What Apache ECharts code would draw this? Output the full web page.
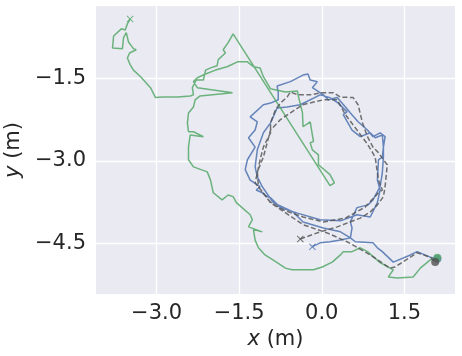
<!DOCTYPE html>
<html><head><meta charset="utf-8">
<script src="https://cdn.jsdelivr.net/npm/echarts@6/dist/echarts.min.js"></script>
<style>html,body{margin:0;padding:0;background:#fff}#c{width:462px;height:356px}</style>
</head><body><div id="c"></div>
<script>
const xTicks = [-3.0, -1.5, 0.0, 1.5];
const yTicks = [-4.5, -3.0, -1.5];

const greenPath = [
[-3.48,-0.42],[-3.53,-0.51],[-3.57,-0.62],[-3.64,-0.60],[-3.78,-0.73],[-3.80,-0.95],[-3.62,-0.96],[-3.60,-0.76],[-3.55,-0.67],[-3.51,-0.84],[-3.42,-0.96],[-3.37,-0.98],[-3.49,-1.04],[-3.53,-1.13],[-3.48,-1.25],[-3.42,-1.35],[-3.29,-1.47],[-3.11,-1.67],[-3.02,-1.85],[-2.89,-1.84],[-2.62,-1.84],[-2.39,-1.82],[-2.33,-1.80],[-2.35,-1.67],[-2.28,-1.53],[-2.15,-1.53],[-2.11,-1.35],[-2.02,-1.31],[-1.90,-1.27],[-1.88,-1.16],[-1.75,-1.04],[-1.79,-0.98],[-1.70,-0.85],[-1.61,-0.69],
[0.15,-3.45],[0.23,-3.40],[0.15,-3.25],[-0.06,-3.07],[-0.06,-2.89],[-0.17,-2.80],[-0.21,-2.67],[-0.15,-2.65],[-0.21,-2.29],[-0.34,-2.38],[-0.35,-2.13],[-0.43,-1.80],[-0.44,-1.73],[-0.66,-1.75],[-0.93,-1.69],[-1.06,-1.47],[-1.12,-1.31],[-1.24,-1.29],[-1.35,-1.20],[-1.53,-1.20],[-1.72,-1.29],[-1.93,-1.35],[-2.11,-1.42],[-2.26,-1.49],[-2.33,-1.56],[-2.26,-1.67],[-1.62,-1.76],[-2.21,-1.82],[-2.30,-1.89],[-2.33,-2.02],[-2.42,-2.13],[-2.44,-2.31],[-2.42,-2.47],[-2.33,-2.47],[-2.15,-2.56],[-2.39,-2.53],[-2.42,-2.75],[-2.42,-2.98],[-2.33,-3.11],[-2.08,-3.20],[-2.02,-3.35],[-1.97,-3.58],[-1.81,-3.71],[-1.70,-3.62],[-1.61,-3.65],[-1.55,-3.76],[-1.30,-3.98],[-1.26,-4.07],[-1.33,-4.20],[-1.08,-4.29],[-1.24,-4.25],[-1.21,-4.44],[-1.15,-4.58],[-1.03,-4.71],[-0.81,-4.85],[-0.66,-4.95],[-0.54,-4.98],[-0.15,-4.98],[0.01,-4.93],[0.19,-4.84],[0.34,-4.71],[0.39,-4.65],[0.55,-4.65],[0.70,-4.58],[0.83,-4.65],[1.06,-4.85],[1.30,-4.98],[1.21,-5.11],[1.37,-5.13],[1.66,-5.11],[1.79,-4.95],[1.97,-4.80],[2.10,-4.76]
];

const bluePath = [
[-0.17,-4.56],[-0.03,-4.49],[0.15,-4.47],[0.34,-4.44],[0.52,-4.40],[0.55,-4.22],[0.52,-4.11],[0.64,-3.85],[0.84,-3.80],[0.93,-3.71],[1.06,-3.47],[1.10,-3.22],[1.12,-2.93],[1.12,-2.75],[1.15,-2.56],[1.06,-2.49],[0.93,-2.56],[0.83,-2.44],[0.66,-2.29],[0.52,-2.13],[0.43,-2.02],[0.28,-1.85],[0.12,-1.89],[0.03,-1.80],[-0.17,-1.67],[-0.08,-1.56],[-0.21,-1.53],[-0.25,-1.42],[-0.34,-1.44],[-0.57,-1.56],[-0.81,-1.64],[-0.79,-1.76],[-0.79,-1.89],[-0.93,-1.95],[-1.06,-1.98],[-1.30,-2.20],[-1.17,-2.29],[-1.21,-2.44],[-1.33,-2.58],[-1.21,-2.75],[-1.35,-2.98],[-1.39,-3.16],[-1.30,-3.35],[-1.12,-3.47],[-1.19,-3.53],[-1.08,-3.58],[-1.01,-3.64],[-0.93,-3.67],[-0.75,-3.85],[-0.44,-3.95],[-0.03,-4.07],[0.34,-4.09],[0.64,-3.98],[0.88,-4.02],[1.01,-3.76],[1.06,-3.53],[1.01,-3.35],[1.03,-2.98],[1.10,-2.93],[1.12,-2.75],[1.10,-2.53],[0.97,-2.58],[0.88,-2.49],[0.70,-2.56],[0.55,-2.44],[0.39,-2.16],[0.46,-2.11],[0.30,-1.95],[0.15,-1.85],[-0.03,-1.80],[-0.39,-1.98],[-0.63,-2.02],[-0.81,-2.04],[-0.93,-2.31],[-1.06,-2.49],[-1.17,-2.80],[-1.21,-3.11],[-1.17,-3.29],[-1.08,-3.47],[-0.88,-3.76],[-0.52,-3.93],[-0.34,-4.11],[0.03,-4.22],[0.34,-4.29],[0.52,-4.40],[0.61,-4.47],[0.93,-4.49],[1.01,-4.58],[1.10,-4.65],[1.30,-4.84],[1.61,-4.71],[1.73,-4.65],[1.97,-4.75],[2.10,-4.78]
];

const refPath = [
[-0.39,-4.42],[-0.03,-4.29],[0.28,-4.20],[0.70,-4.04],[0.88,-3.93],[1.01,-3.80],[1.12,-3.65],[1.15,-3.47],[1.19,-3.07],[1.12,-2.98],[1.03,-2.85],[0.93,-2.75],[0.83,-2.56],[0.74,-2.31],[0.66,-1.98],[0.57,-1.85],[0.34,-1.84],[0.21,-1.76],[0.01,-1.76],[-0.21,-1.80],[-0.43,-1.80],[-0.57,-1.75],[-0.63,-1.84],[-0.75,-1.95],[-0.84,-2.07],[-0.93,-2.31],[-0.93,-2.49],[-1.06,-2.75],[-1.12,-2.98],[-1.17,-3.22],[-1.21,-3.40],[-1.08,-3.56],[-0.93,-3.75],[-0.70,-3.89],[-0.34,-4.02],[0.03,-4.11],[0.43,-4.04],[0.79,-3.84],[1.03,-3.58],[1.10,-3.53],[1.03,-3.35],[0.97,-2.93],[0.84,-2.71],[0.64,-2.44],[0.43,-2.16],[0.28,-1.89],[0.03,-1.89],[-0.35,-1.98],[-0.75,-2.25],[-0.93,-2.44],[-1.06,-2.93],[-1.17,-3.20],[-1.15,-3.47],[-0.93,-3.76],[-0.34,-4.16],[0.10,-4.31],[0.46,-4.47],[0.88,-4.71],[1.24,-4.95],[1.33,-4.93],[1.61,-4.75],[1.73,-4.67],[1.97,-4.75],[2.06,-4.84]
];

const GREEN = '#55A868', BLUE = '#4C72B0', REF = '#505050';
const XSYM = 'path://M1,0L5,4L9,0L10,1L6,5L10,9L9,10L5,6L1,10L0,9L4,5L0,1Z';
const fmt = v => (v < 0 ? '\u2212' : '') + Math.abs(v).toFixed(1);
const FONT = 'DejaVu Sans';

function pathSeries(data, color, dashed) {
  return {
    type: 'line', data: data, showSymbol: false, silent: true, animation: false,
    lineStyle: { color: color, width: 1.5, opacity: dashed ? 0.8 : 0.85, type: dashed ? [5, 2.5] : 'solid' },
    z: dashed ? 4 : 3
  };
}
function markers(data, color) {
  return [
    { type: 'scatter', data: [data[0]], symbol: XSYM, symbolSize: 7, itemStyle: { color: color }, z: 6, animation: false },
    { type: 'scatter', data: [data[data.length - 1]], symbol: 'circle', symbolSize: 8, itemStyle: { color: color }, z: 6, animation: false }
  ];
}

const chart = echarts.init(document.getElementById('c'));
chart.setOption({
  animation: false,
  grid: { left: 96, right: 7, top: 6, bottom: 62, show: true, backgroundColor: '#EAEAF2', borderWidth: 0, outerBoundsMode: 'none', containLabel: false },
  xAxis: {
    type: 'value', min: -4.10, max: 2.42,
    axisLine: { show: false },
    axisTick: { show: false, customValues: xTicks },
    axisLabel: { customValues: xTicks, formatter: fmt, fontSize: 21, fontFamily: FONT, color: '#262626', margin: 9 },
    splitLine: { show: true, lineStyle: { color: '#ffffff', width: 1.3 } },
    name: '{i|x} (m)', nameLocation: 'middle', nameGap: 31,
    nameTextStyle: { fontSize: 21, fontFamily: FONT, color: '#262626', rich: { i: { fontStyle: 'italic', fontSize: 21, fontFamily: FONT, color: '#262626' } } }
  },
  yAxis: {
    type: 'value', min: -5.42, max: -0.185,
    axisLine: { show: false },
    axisTick: { show: false, customValues: yTicks },
    axisLabel: { customValues: yTicks, formatter: fmt, fontSize: 21, fontFamily: FONT, color: '#262626', margin: 10 },
    splitLine: { show: true, lineStyle: { color: '#ffffff', width: 1.3 } },
    name: '{i|y} (m)', nameLocation: 'middle', nameGap: 70,
    nameTextStyle: { fontSize: 21, fontFamily: FONT, color: '#262626', rich: { i: { fontStyle: 'italic', fontSize: 21, fontFamily: FONT, color: '#262626' } } }
  },
  series: [
    pathSeries(bluePath, BLUE, false),
    pathSeries(greenPath, GREEN, false),
    pathSeries(refPath, REF, true),
    ...markers(bluePath, BLUE),
    ...markers(greenPath, GREEN),
    ...markers(refPath, REF)
  ]
});
</script>
</body></html>
